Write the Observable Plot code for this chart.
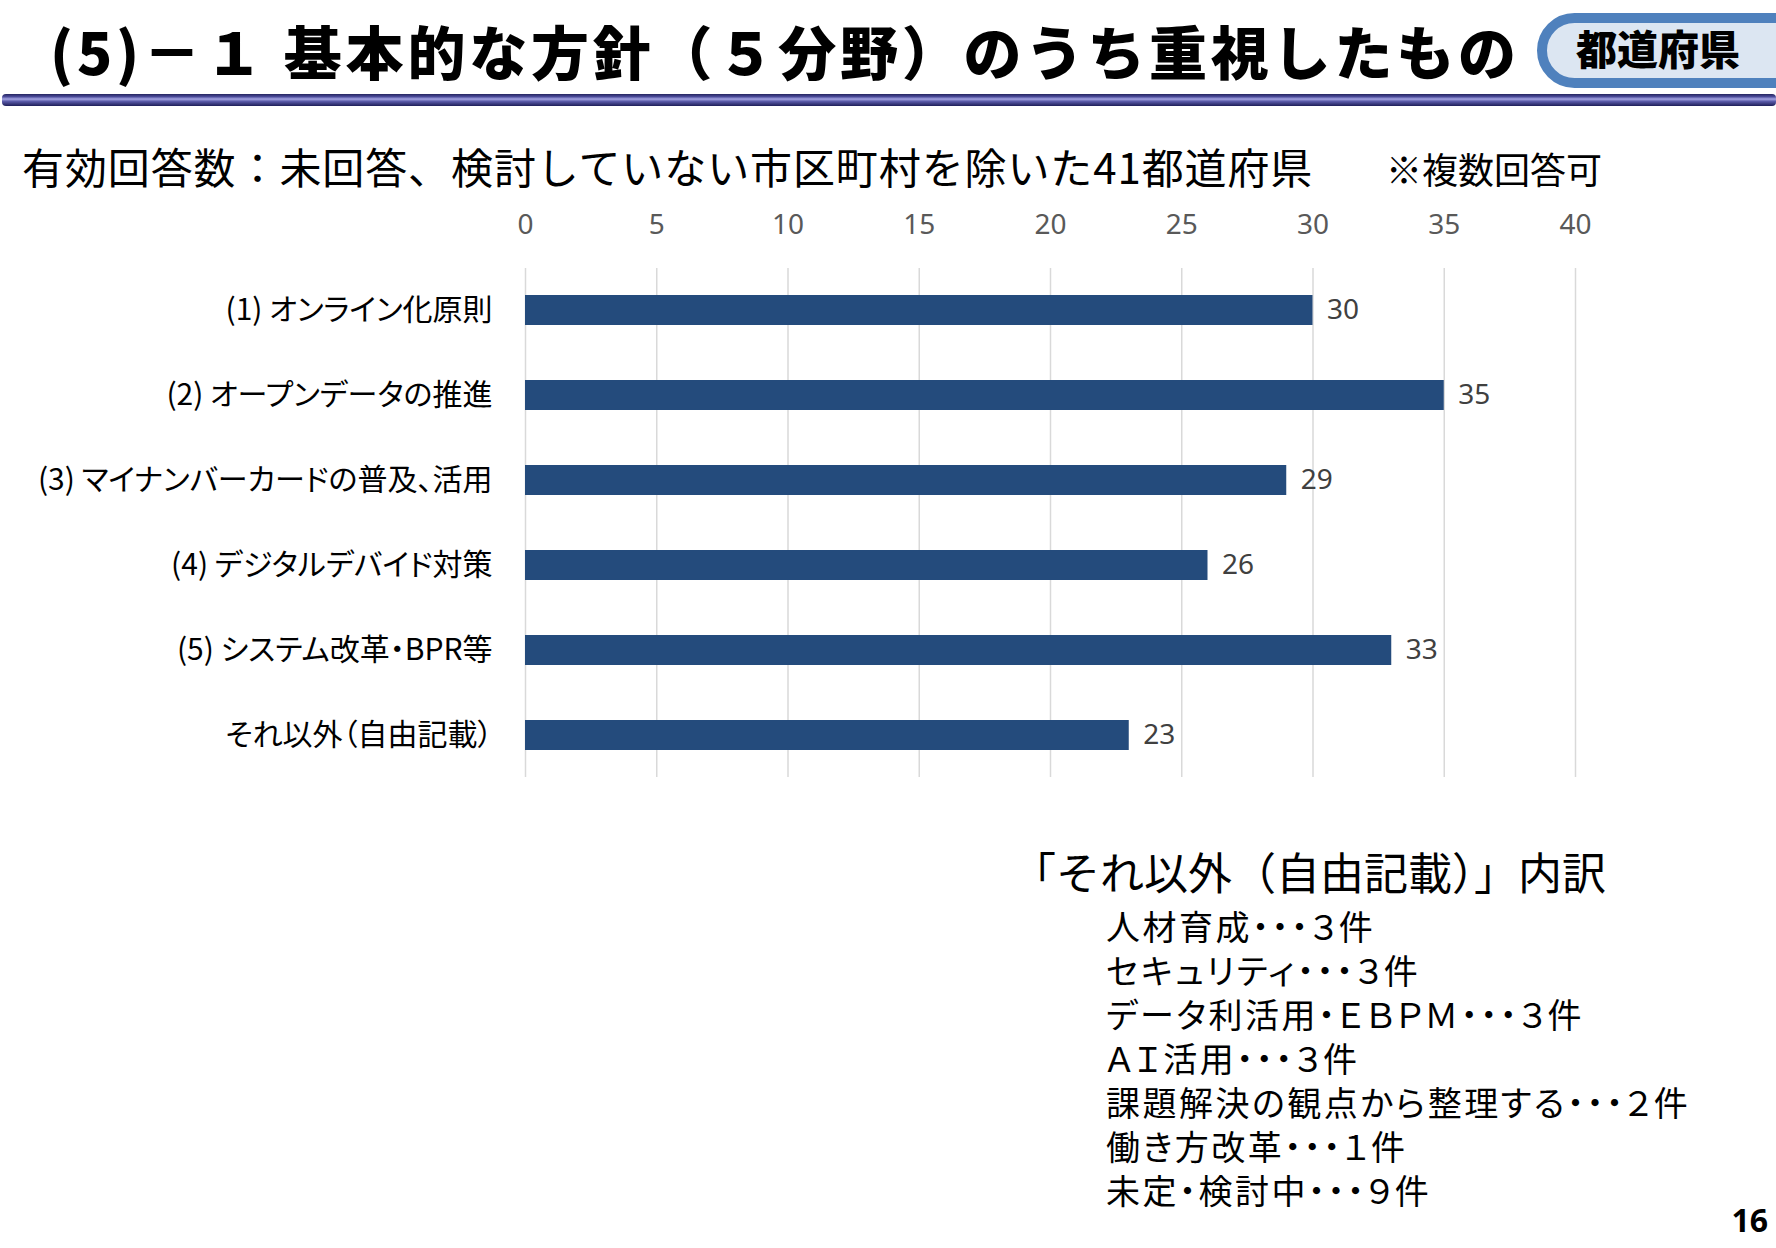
<!DOCTYPE html>
<html lang="ja">
<head>
<meta charset="utf-8">
<script src="https://cdn.jsdelivr.net/npm/d3@7"></script>
<script src="https://cdn.jsdelivr.net/npm/@observablehq/plot@0.6"></script>
<style>
  html, body { margin: 0; padding: 0; background: #fff; }
  #page { position: relative; width: 1776px; height: 1248px; overflow: hidden; background: #fff;
          font-family: "Noto Sans CJK JP", "Noto Sans", sans-serif; color: #000; }
  .abs { position: absolute; white-space: nowrap; line-height: 1; }
  #title { left: 50px; top: 21px; font-size: 58px; font-weight: 900; letter-spacing: 3.8px; }
  #rule { left: 2px; top: 94px; width: 1774px; height: 12px; border-radius: 4px;
          background: linear-gradient(to bottom, #24245e 0%, #4a4a98 22%, #a4a4e2 42%, #5a5aa8 62%, #1e1e58 100%); }
  #badge { left: 1537px; top: 13px; width: 270px; height: 55px; border: 10px solid #4F81BD; border-radius: 38px;
           background: #DCE6F2; }
  #badgeText { left: 1576px; top: 27px; font-size: 41px; font-weight: 900; }
  #subtitle { left: 22px; top: 145px; font-size: 42px; letter-spacing: 0.9px; }
  #note { left: 1386px; top: 150px; font-size: 36px; }
  #chart { position: absolute; left: 0; top: 190px; }
  #chart svg g[aria-label="y-axis tick label"] text { font-feature-settings: "palt"; }
  #boxHead { left: 1012px; top: 849px; font-size: 44px; }
  #list { left: 1106px; top: 904px; font-size: 34px; line-height: 44px; font-feature-settings: "palt"; letter-spacing: 2.5px; }
  #list div { white-space: nowrap; }
  #pageNo { right: 8px; top: 1204px; font-size: 32px; font-weight: 700; font-family: "Open Sans", "Noto Sans", sans-serif; }
</style>
</head>
<body>
<div id="page">
  <div id="title" class="abs"></div>
  <div id="rule" class="abs"></div>
  <div id="badge" class="abs"></div>
  <div id="badgeText" class="abs"></div>
  <div id="subtitle" class="abs"></div>
  <div id="note" class="abs"></div>
  <div id="chart"></div>
  <div id="boxHead" class="abs"></div>
  <div id="list" class="abs"></div>
  <div id="pageNo" class="abs"></div>
</div>
<script>
// ---- Data ----
const titleText = "(5)－１ 基本的な方針（５分野）のうち重視したもの";
const badgeText = "都道府県";
const subtitleText = "有効回答数：未回答、検討していない市区町村を除いた41都道府県";
const noteText = "※複数回答可";
const categories = [
  "(1) オンライン化原則",
  "(2) オープンデータの推進",
  "(3) マイナンバーカードの普及、活用",
  "(4) デジタルデバイド対策",
  "(5) システム改革・BPR等",
  "それ以外（自由記載）"
];
const values = [30, 35, 29, 26, 33, 23];
const xTicks = [0, 5, 10, 15, 20, 25, 30, 35, 40];
const breakdownHead = "「それ以外（自由記載）」内訳";
const breakdownItems = [
  "人材育成・・・３件",
  "セキュリティ・・・３件",
  "データ利活用・ＥＢＰＭ・・・３件",
  "ＡＩ活用・・・３件",
  "課題解決の観点から整理する・・・２件",
  "働き方改革・・・１件",
  "未定・検討中・・・９件"
];
const pageNumber = "16";

// ---- Texts ----
document.getElementById("title").textContent = titleText;
document.getElementById("badgeText").textContent = badgeText;
document.getElementById("subtitle").textContent = subtitleText;
document.getElementById("note").textContent = noteText;
document.getElementById("boxHead").textContent = breakdownHead;
const list = document.getElementById("list");
for (const item of breakdownItems) {
  const d = document.createElement("div");
  d.textContent = item;
  list.appendChild(d);
}
document.getElementById("pageNo").textContent = pageNumber;

// ---- Chart ----
const data = categories.map((c, i) => ({category: c, value: values[i]}));
const chart = Plot.plot({
  width: 1660,
  height: 620,
  marginLeft: 525,
  marginRight: 85,
  marginTop: 78,
  marginBottom: 33,
  style: {fontFamily: "'Noto Sans CJK JP', 'Noto Sans', sans-serif", background: "transparent", overflow: "visible"},
  x: {domain: [0, 40], axis: null},
  y: {domain: categories, paddingInner: 0.65, paddingOuter: 0.3, axis: null},
  marks: [
    Plot.gridX(xTicks, {stroke: "#d9d9d9", strokeOpacity: 1, strokeWidth: 1.5}),
    Plot.axisX(xTicks, {anchor: "top", tickSize: 0, tickPadding: 35, fontSize: 28, fill: "#595959",
                        fontFamily: "'Noto Sans', sans-serif", label: null}),
    Plot.axisY({tickSize: 0, tickPadding: 33, fontSize: 30, fill: "#000", label: null}),
    Plot.barX(data, {x: "value", y: "category", fill: "#244B7C"}),
    Plot.text(data, {x: "value", y: "category", text: d => String(d.value), dx: 14, textAnchor: "start",
                     fontSize: 28, fill: "#404040", fontFamily: "'Noto Sans', sans-serif"})
  ]
});
document.getElementById("chart").appendChild(chart);
</script>
</body>
</html>
